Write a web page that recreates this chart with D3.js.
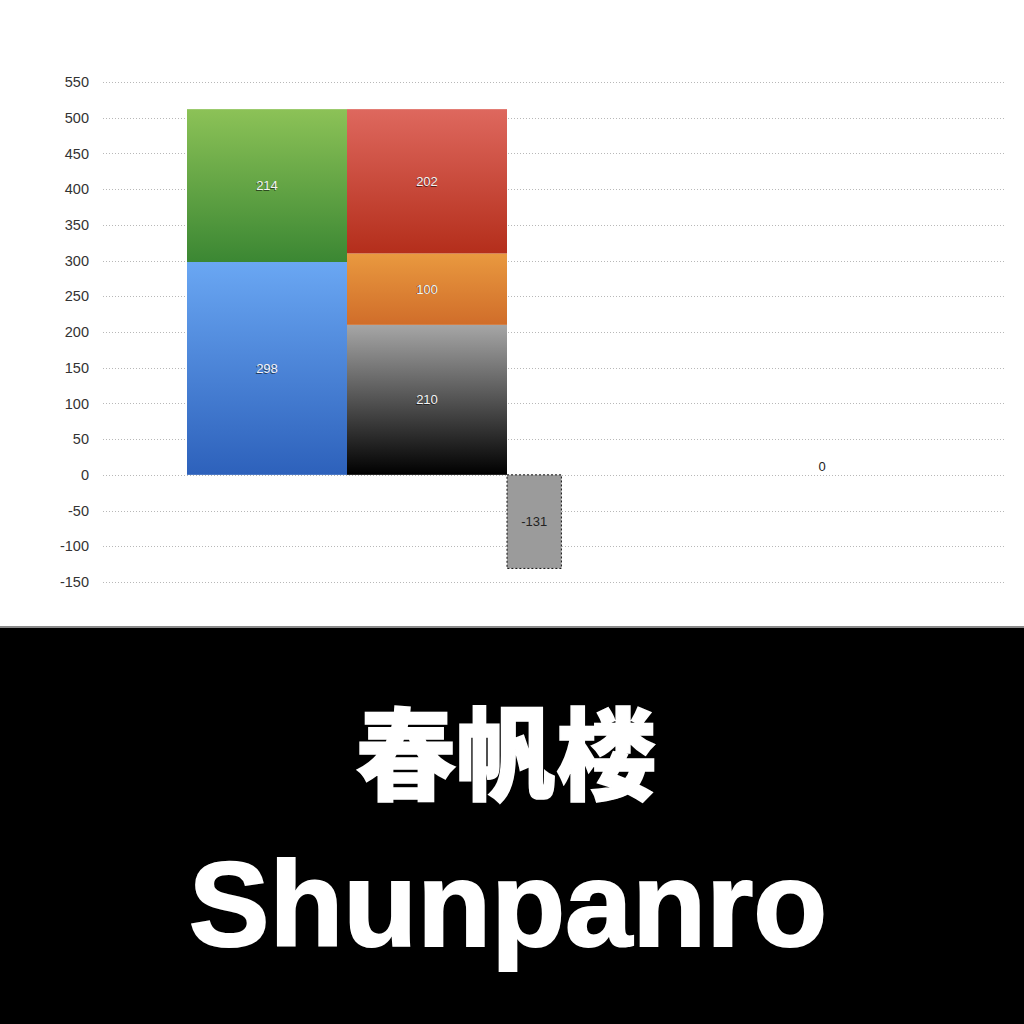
<!DOCTYPE html>
<html>
<head>
<meta charset="utf-8">
<script src="https://cdn.jsdelivr.net/npm/d3@7"></script>
<style>
  body { margin: 0; background: #fff; }
  svg { display: block; }
</style>
</head>
<body>
<div id="block"></div>
<script>
// chart data
var columns = ["c1", "c2", "c3", "c4"];
var segColumn = ["c1", "c1", "c2", "c2", "c2", "c3"];
var segValues = [298, 214, 210, 100, 202, -131];
var segNames = ["blue", "green", "black", "orange", "red", "neg"];
var endColumn = "c4";
var endValue = 0;
var yTicks = [-150, -100, -50, 0, 50, 100, 150, 200, 250, 300, 350, 400, 450, 500, 550];

var titleJa = "春帆楼";
var titleEn = "Shunpanro";

// gradient colours per segment (top, bottom)
var gradients = {
  blue:   ["#6aa7f3", "#2d61bb"],
  green:  ["#8cc257", "#3b8733"],
  black:  ["#a6a6a6", "#000000"],
  orange: ["#e9993f", "#d06d2a"],
  red:    ["#de685e", "#b42e1b"]
};

var w = 1024,
  h = 1024;

var svg = d3.select("#block")
          .append("svg")
          .attr("width", w)
          .attr("height", h);

var defs = svg.append("defs");
Object.keys(gradients).forEach(function(k) {
  var g = defs.append("linearGradient")
             .attr("id", "grad-" + k)
             .attr("x1", 0).attr("y1", 0)
             .attr("x2", 0).attr("y2", 1);
  g.append("stop").attr("offset", "0%").attr("stop-color", gradients[k][0]);
  g.append("stop").attr("offset", "100%").attr("stop-color", gradients[k][1]);
});

var y = d3.scaleLinear()
        .domain([-150, 550])
        .range([582, 82]);

var x = d3.scaleBand()
        .domain(columns)
        .range([187, 827])
        .padding(0);

// grid lines
svg.append("g")
   .selectAll("line")
   .data(yTicks)
   .enter()
   .append("line")
   .attr("x1", 103)
   .attr("x2", 1006)
   .attr("y1", function(d) { return Math.round(y(d)) + 0.5; })
   .attr("y2", function(d) { return Math.round(y(d)) + 0.5; })
   .attr("stroke", "#b8b8b8")
   .attr("stroke-width", 1)
   .attr("stroke-dasharray", "1,2");

// y axis labels
var yAxis = d3.axisLeft(y)
            .tickValues(yTicks)
            .tickFormat(function(d) { return String(d); })
            .tickSize(0)
            .tickPadding(0);
var ag = svg.append("g")
            .attr("transform", "translate(89,0)")
            .call(yAxis);
ag.select(".domain").remove();
ag.selectAll("text")
  .attr("font-family", "Liberation Sans, Arial, sans-serif")
  .attr("font-size", 14.5)
  .attr("fill", "#333");

// stack segments per column
var running = {};
var segs = segValues.map(function(v, i) {
  var col = segColumn[i];
  var base = running[col] || 0;
  running[col] = base + v;
  return { name: segNames[i], col: col, v: v, y0: base, y1: base + v };
});

var bars = svg.append("g");

bars.selectAll("rect")
    .data(segs)
    .enter()
    .append("rect")
    .attr("x", function(d) { return x(d.col); })
    .attr("width", function(d) { return d.v < 0 ? x.bandwidth() * 0.34 : x.bandwidth(); })
    .attr("y", function(d) { return y(Math.max(d.y0, d.y1)); })
    .attr("height", function(d) { return Math.abs(y(d.y0) - y(d.y1)); })
    .attr("fill", function(d) { return d.v < 0 ? "#9b9b9b" : "url(#grad-" + d.name + ")"; })
    .attr("stroke", function(d) { return d.v < 0 ? "#111" : "none"; })
    .attr("stroke-width", 1)
    .attr("stroke-dasharray", "2,2");

function segX(d) {
  return x(d.col) + (d.v < 0 ? x.bandwidth() * 0.17 : x.bandwidth() / 2);
}
function segY(d) {
  return (y(d.y0) + y(d.y1)) / 2;
}

// label shadows for the coloured segments
bars.selectAll("text.shadow")
    .data(segs.filter(function(d) { return d.v >= 0; }))
    .enter()
    .append("text")
    .attr("class", "shadow")
    .attr("x", function(d) { return segX(d) - 0.8; })
    .attr("y", function(d) { return segY(d) + 0.8; })
    .attr("text-anchor", "middle")
    .attr("dy", "0.35em")
    .attr("font-family", "Liberation Sans, Arial, sans-serif")
    .attr("font-size", 13)
    .attr("fill", "rgba(0,0,0,0.55)")
    .text(function(d) { return d.v; });

bars.selectAll("text.lbl")
    .data(segs)
    .enter()
    .append("text")
    .attr("class", "lbl")
    .attr("x", segX)
    .attr("y", segY)
    .attr("text-anchor", "middle")
    .attr("dy", "0.35em")
    .attr("font-family", "Liberation Sans, Arial, sans-serif")
    .attr("font-size", 13)
    .attr("fill", function(d) { return d.v < 0 ? "#222" : "#f4f4f4"; })
    .text(function(d) { return d.v; });

// end total label
svg.append("text")
   .attr("x", x(endColumn) + x.bandwidth() * 0.97)
   .attr("y", y(endValue) - 4)
   .attr("text-anchor", "middle")
   .attr("font-family", "Liberation Sans, Arial, sans-serif")
   .attr("font-size", 13)
   .attr("fill", "#222")
   .text(endValue);

// bottom title band
svg.append("rect")
   .attr("x", 0)
   .attr("y", 626)
   .attr("width", w)
   .attr("height", 2)
   .attr("fill", "#8a8a8a");

svg.append("rect")
   .attr("x", 0)
   .attr("y", 628)
   .attr("width", w)
   .attr("height", h - 628)
   .attr("fill", "#000");

svg.append("text")
   .attr("x", 506)
   .attr("y", 792)
   .attr("text-anchor", "middle")
   .attr("font-family", "Noto Sans CJK JP, Noto Sans CJK SC, sans-serif")
   .attr("font-weight", 900)
   .attr("font-size", 100)
   .attr("fill", "#fff")
   .attr("stroke", "#fff")
   .attr("stroke-width", 1.5)
   .text(titleJa);

svg.append("text")
   .attr("x", 508)
   .attr("y", 946)
   .attr("text-anchor", "middle")
   .attr("font-family", "Liberation Sans, Arial, sans-serif")
   .attr("font-weight", "bold")
   .attr("font-size", 121)
   .attr("fill", "#fff")
   .attr("stroke", "#fff")
   .attr("stroke-width", 2)
   .text(titleEn);
</script>
</body>
</html>
